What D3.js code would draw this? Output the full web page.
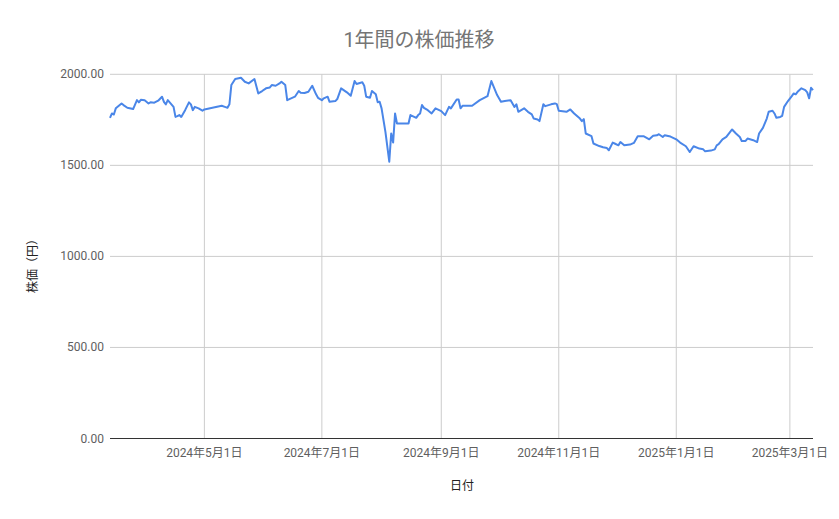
<!DOCTYPE html>
<html>
<head>
<meta charset="utf-8">
<script src="https://cdn.jsdelivr.net/npm/d3@7"></script>
<style>
  body { margin: 0; background: #fff; }
  text { font-family: Roboto, "Noto Sans CJK JP", sans-serif; }
</style>
</head>
<body>
<div id="chart"></div>
<script>
// 日付と終値
const dates = [
  "2024-03-13","2024-03-14","2024-03-15","2024-03-16","2024-03-19","2024-03-20","2024-03-22","2024-03-25","2024-03-27","2024-03-28",
  "2024-03-29","2024-03-31","2024-04-02","2024-04-03","2024-04-05","2024-04-07","2024-04-09","2024-04-10","2024-04-11","2024-04-12",
  "2024-04-13","2024-04-15","2024-04-16","2024-04-17","2024-04-18","2024-04-19","2024-04-21","2024-04-23","2024-04-24","2024-04-25",
  "2024-04-26","2024-04-28","2024-04-30","2024-05-01","2024-05-10","2024-05-12","2024-05-13","2024-05-14","2024-05-15","2024-05-17",
  "2024-05-20","2024-05-22","2024-05-24","2024-05-27","2024-05-29","2024-05-31","2024-06-02","2024-06-04","2024-06-05","2024-06-07",
  "2024-06-09","2024-06-10","2024-06-12","2024-06-13","2024-06-15","2024-06-17","2024-06-19","2024-06-20","2024-06-22","2024-06-24",
  "2024-06-26","2024-06-28","2024-06-29","2024-07-01","2024-07-02","2024-07-04","2024-07-05","2024-07-08","2024-07-09","2024-07-11",
  "2024-07-14","2024-07-16","2024-07-18","2024-07-19","2024-07-22","2024-07-23","2024-07-24","2024-07-26","2024-07-27","2024-07-29",
  "2024-07-30","2024-07-31","2024-08-01","2024-08-03","2024-08-05","2024-08-06","2024-08-07","2024-08-08","2024-08-09","2024-08-15",
  "2024-08-16","2024-08-19","2024-08-20","2024-08-21","2024-08-22","2024-08-23","2024-08-25","2024-08-27","2024-08-29","2024-09-01",
  "2024-09-03","2024-09-05","2024-09-06","2024-09-09","2024-09-10","2024-09-11","2024-09-12","2024-09-17","2024-09-21","2024-09-25",
  "2024-09-27","2024-09-30","2024-10-02","2024-10-04","2024-10-07","2024-10-09","2024-10-10","2024-10-11","2024-10-14","2024-10-16",
  "2024-10-18","2024-10-19","2024-10-21","2024-10-22","2024-10-24","2024-10-25","2024-10-28","2024-10-30","2024-10-31","2024-11-01",
  "2024-11-05","2024-11-07","2024-11-09","2024-11-12","2024-11-13","2024-11-14","2024-11-15","2024-11-18","2024-11-19","2024-11-22",
  "2024-11-24","2024-11-26","2024-11-27","2024-11-29","2024-11-30","2024-12-02","2024-12-03","2024-12-05","2024-12-08","2024-12-10",
  "2024-12-12","2024-12-15","2024-12-18","2024-12-20","2024-12-22","2024-12-23","2024-12-25","2024-12-26","2024-12-29","2025-01-01",
  "2025-01-03","2025-01-06","2025-01-08","2025-01-10","2025-01-13","2025-01-15","2025-01-16","2025-01-19","2025-01-21","2025-01-22",
  "2025-01-23","2025-01-25","2025-01-27","2025-01-29","2025-01-30","2025-02-01","2025-02-03","2025-02-04","2025-02-06","2025-02-07",
  "2025-02-10","2025-02-12","2025-02-13","2025-02-15","2025-02-17","2025-02-18","2025-02-20","2025-02-21","2025-02-22","2025-02-24",
  "2025-02-25","2025-02-26","2025-02-28","2025-03-02","2025-03-03","2025-03-04","2025-03-05","2025-03-07","2025-03-09","2025-03-10",
  "2025-03-11","2025-03-12","2025-03-13"
];
const prices = [
  1761,1785,1779,1813,1840,1831,1816,1809,1858,1846,
  1860,1857,1840,1846,1844,1855,1877,1849,1835,1858,
  1846,1821,1766,1770,1776,1766,1803,1846,1835,1803,
  1821,1813,1800,1807,1827,1820,1816,1835,1941,1974,
  1981,1959,1950,1974,1895,1908,1923,1928,1941,1937,
  1950,1959,1941,1858,1868,1877,1908,1899,1897,1904,
  1937,1890,1871,1858,1868,1877,1849,1853,1864,1923,
  1901,1882,1963,1947,1956,1937,1877,1871,1908,1890,
  1846,1849,1813,1684,1520,1675,1625,1785,1730,1730,
  1776,1761,1776,1785,1831,1816,1803,1785,1813,1798,
  1776,1821,1813,1862,1862,1813,1827,1827,1858,1880,
  1963,1886,1849,1853,1858,1821,1835,1794,1813,1794,
  1780,1757,1752,1743,1835,1825,1835,1840,1836,1800,
  1794,1807,1785,1757,1743,1754,1675,1660,1620,1606,
  1599,1595,1583,1625,1620,1610,1628,1610,1614,1623,
  1660,1660,1643,1662,1665,1671,1656,1665,1658,1643,
  1625,1605,1573,1605,1592,1588,1577,1581,1588,1610,
  1616,1643,1656,1684,1697,1675,1656,1634,1634,1647,
  1638,1628,1675,1706,1757,1794,1800,1785,1761,1766,
  1772,1821,1853,1880,1895,1890,1904,1923,1913,1901,
  1868,1926,1913
];
const yTicks = [0, 500, 1000, 1500, 2000];
const xTickDates = ["2024-05-01","2024-07-01","2024-09-01","2024-11-01","2025-01-01","2025-03-01"];

const width = 839, height = 519;
const parse = d3.timeParse("%Y-%m-%d");
const data = dates.map((d, i) => ({ date: parse(d), value: prices[i] }));

const svg = d3.select('#chart')
  .append('svg')
    .attr('width', width)
    .attr('height', height);

const x = d3.scaleTime()
  .domain(d3.extent(data, d => d.date))
  .range([110, 813]);

const y = d3.scaleLinear()
  .domain([0, 2000])
  .range([438.5, 74.3]);

// タイトル
svg.append('text')
  .attr('x', 419)
  .attr('y', 47)
  .attr('text-anchor', 'middle')
  .attr('font-size', 20)
  .attr('fill', '#757575')
  .text('1年間の株価推移');

// 横グリッド + y ラベル
svg.selectAll('.hgrid')
  .data(yTicks.filter(t => t > 0))
  .join('line')
    .attr('class', 'hgrid')
    .attr('x1', 110).attr('x2', 813)
    .attr('y1', d => y(d)).attr('y2', d => y(d))
    .attr('stroke', '#cccccc');

svg.selectAll('.ylabel')
  .data(yTicks)
  .join('text')
    .attr('class', 'ylabel')
    .attr('x', 104)
    .attr('y', d => y(d) + 4)
    .attr('text-anchor', 'end')
    .attr('font-size', 12)
    .attr('fill', '#5f5f5f')
    .text(d => d3.format('.2f')(d));

// 縦グリッド + x ラベル
const fmtJa = d => `${d.getFullYear()}年${d.getMonth() + 1}月${d.getDate()}日`;
const xTicks = xTickDates.map(parse);

svg.selectAll('.vgrid')
  .data(xTicks)
  .join('line')
    .attr('class', 'vgrid')
    .attr('x1', d => x(d)).attr('x2', d => x(d))
    .attr('y1', y(2000)).attr('y2', y(0))
    .attr('stroke', '#cccccc');

svg.selectAll('.xlabel')
  .data(xTicks)
  .join('text')
    .attr('class', 'xlabel')
    .attr('x', d => x(d))
    .attr('y', 457)
    .attr('text-anchor', 'middle')
    .attr('font-size', 12)
    .attr('fill', '#5f5f5f')
    .text(fmtJa);

// ベースライン
svg.append('line')
  .attr('x1', 110).attr('x2', 813)
  .attr('y1', y(0)).attr('y2', y(0))
  .attr('stroke', '#333333')
  .attr('stroke-width', 1.2);

// 折れ線
const line = d3.line()
  .x(d => x(d.date))
  .y(d => y(d.value));

svg.append('path')
  .datum(data)
  .attr('fill', 'none')
  .attr('stroke', '#4a86e8')
  .attr('stroke-width', 2)
  .attr('stroke-linejoin', 'round')
  .attr('d', line);

// 軸タイトル
svg.append('text')
  .attr('x', 462)
  .attr('y', 490)
  .attr('text-anchor', 'middle')
  .attr('font-size', 12)
  .attr('fill', '#222')
  .text('日付');

svg.append('text')
  .attr('transform', 'translate(37,263) rotate(-90)')
  .attr('text-anchor', 'middle')
  .attr('font-size', 12)
  .attr('fill', '#222')
  .text('株価（円）');
</script>
</body>
</html>
